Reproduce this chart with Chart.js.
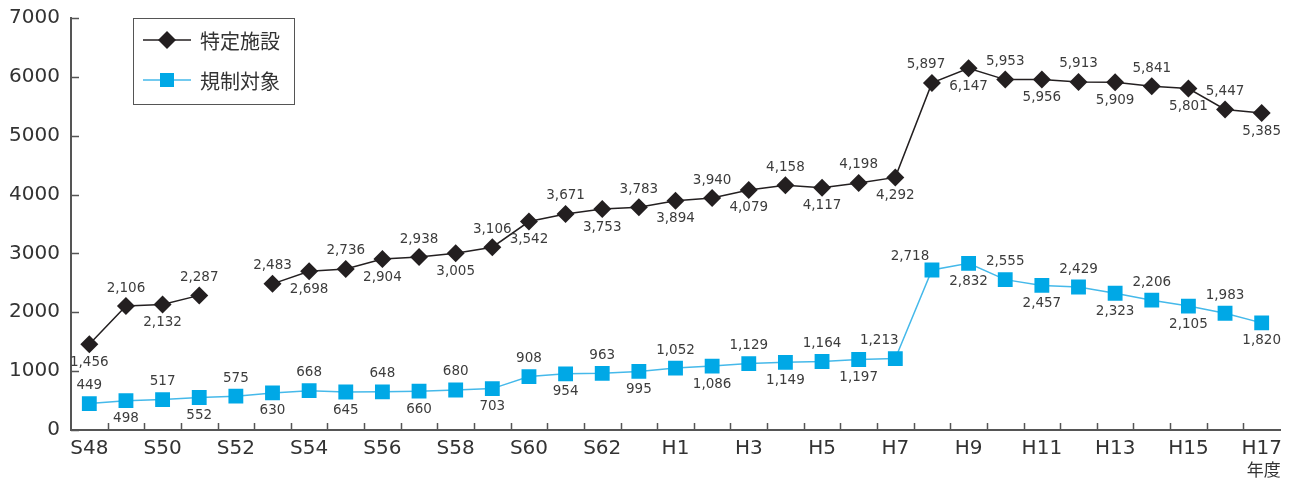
<!DOCTYPE html>
<html lang="ja">
<head>
  <meta charset="UTF-8" />
  <title>特定施設・規制対象の推移</title>
  <script src="https://cdn.jsdelivr.net/npm/chart.js@4.4.1/dist/chart.umd.min.js"></script>
  <style>
    *{margin:0;padding:0;box-sizing:border-box}
    body{background:#fff;width:1292px;height:482px;overflow:hidden}
    canvas{display:block}
  </style>
</head>
<body>
  <canvas id="chart" width="1292" height="482"></canvas>
  <script>
    // 年度
    const categories = ['S48','S49','S50','S51','S52','S53','S54','S55','S56','S57','S58','S59','S60','S61','S62','S63',
      'H1','H2','H3','H4','H5','H6','H7','H8','H9','H10','H11','H12','H13','H14','H15','H16','H17'];
    // 特定施設 (S52 はデータなし)
    const facilities = [1456,2106,2132,2287,null,2483,2698,2736,2904,2938,3005,3106,3542,3671,3753,3783,
      3894,3940,4079,4158,4117,4198,4292,5897,6147,5953,5956,5913,5909,5841,5801,5447,5385];
    // 規制対象
    const regulated = [449,498,517,552,575,630,668,645,648,660,680,703,908,954,963,995,
      1052,1086,1129,1149,1164,1197,1213,2718,2832,2555,2457,2429,2323,2206,2105,1983,1820];
    const yTicks = [0,1000,2000,3000,4000,5000,6000,7000];

    const FONT = '"DejaVu Sans", sans-serif';
    const BLACK = '#231f20', BLUE = '#00a8e6', BLUE_LINE = '#45b9ea', AXIS = '#555';

    // label placement: a = above, b = below, al = above-left
    const labelPos = [
      categories.map((c, i) => i === 23 ? 'al0' : (i % 2 ? 'a' : 'b')),
      categories.map((c, i) => {
        if (i === 23) return 'al';
        if (i === 22) return 'a1';
        if (i > 23) return i % 2 ? 'a' : 'b';
        return i % 2 ? 'b' : 'a';
      })
    ];

    const valueLabels = {
      id: 'valueLabels',
      afterDatasetsDraw(chart) {
        const ctx = chart.ctx;
        ctx.save();
        ctx.font = '13.5px ' + FONT;
        ctx.fillStyle = '#3c3c3c';
        ctx.textAlign = 'center';
        ctx.textBaseline = 'middle';
        chart.data.datasets.forEach((ds, di) => {
          chart.getDatasetMeta(di).data.forEach((pt, i) => {
            const v = ds.data[i];
            if (v == null) return;
            const p = labelPos[di][i];
            let dx = 0, dy = p[0] === 'a' ? -18 : 18;
            if (p === 'al') { dx = -22; dy = -14; }
            if (p === 'al0') { dx = -6; }
            if (p === 'a1') { dx = -16; }
            ctx.fillText(v.toLocaleString('en-US'), pt.x + dx, pt.y + dy);
          });
        });
        ctx.restore();
      }
    };

    const inwardTicks = {
      id: 'inwardTicks',
      afterDraw(chart) {
        const {ctx, chartArea, scales: {x, y}} = chart;
        ctx.save();
        ctx.strokeStyle = AXIS;
        ctx.lineWidth = 1.5;
        ctx.beginPath();
        for (let i = 1; i < categories.length; i++) {
          const px = Math.round((x.getPixelForValue(i - 1) + x.getPixelForValue(i)) / 2) + 0.5;
          ctx.moveTo(px, chartArea.bottom);
          ctx.lineTo(px, chartArea.bottom - 7);
        }
        yTicks.forEach(t => {
          const py = Math.round(y.getPixelForValue(t)) + 0.5;
          ctx.moveTo(chartArea.left, py);
          ctx.lineTo(chartArea.left + 8, py);
        });
        ctx.stroke();
        // 年度
        ctx.fillStyle = '#333';
        ctx.font = '17px "Noto Sans CJK JP", sans-serif';
        ctx.textAlign = 'center';
        ctx.textBaseline = 'middle';
        ctx.fillText('年度', x.getPixelForValue(categories.length - 1) + 2, 470);
        ctx.restore();
      }
    };

    const boxLegend = {
      id: 'boxLegend',
      afterDraw(chart) {
        const ctx = chart.ctx;
        ctx.save();
        ctx.strokeStyle = AXIS;
        ctx.lineWidth = 1;
        ctx.strokeRect(133.5, 18.5, 161, 86);
        const rows = [
          {y: 40, line: BLACK, fill: BLACK, shape: 'diamond', text: '特定施設'},
          {y: 80, line: BLUE_LINE, fill: BLUE, shape: 'square', text: '規制対象'}
        ];
        rows.forEach(r => {
          ctx.strokeStyle = r.line;
          ctx.lineWidth = 1.5;
          ctx.beginPath();
          ctx.moveTo(143, r.y); ctx.lineTo(191, r.y);
          ctx.stroke();
          ctx.fillStyle = r.fill;
          ctx.beginPath();
          if (r.shape === 'diamond') {
            ctx.moveTo(167, r.y - 9); ctx.lineTo(176, r.y); ctx.lineTo(167, r.y + 9); ctx.lineTo(158, r.y);
            ctx.closePath();
          } else {
            ctx.rect(160, r.y - 7, 14, 14);
          }
          ctx.fill();
          ctx.fillStyle = '#333';
          ctx.font = '20px "Noto Sans CJK JP", sans-serif';
          ctx.textBaseline = 'middle';
          ctx.fillText(r.text, 200, r.y + 1);
        });
        ctx.restore();
      }
    };

    new Chart(document.getElementById('chart').getContext('2d'), {
      type: 'line',
      data: {
        labels: categories,
        datasets: [
          {label: '特定施設', data: facilities, borderColor: BLACK, backgroundColor: BLACK, borderWidth: 1.5,
           pointStyle: 'rectRot', pointRadius: 9, pointBorderWidth: 0, spanGaps: false, fill: false, tension: 0},
          {label: '規制対象', data: regulated, borderColor: BLUE_LINE, backgroundColor: BLUE, borderWidth: 1.5,
           pointStyle: 'rect', pointRadius: 10.5, pointBorderWidth: 0, fill: false, tension: 0}
        ]
      },
      options: {
        responsive: false,
        animation: false,
        devicePixelRatio: 1,
        layout: {padding: {top: 18, right: 12, left: 0, bottom: 0}},
        plugins: {legend: {display: false}, tooltip: {enabled: false}},
        scales: {
          x: {
            offset: true,
            grid: {display: false, drawTicks: false},
            border: {display: true, color: AXIS, width: 2},
            ticks: {
              autoSkip: false, maxRotation: 0, padding: 7, color: '#333',
              font: {family: FONT, size: 20},
              callback: (v, i) => i % 2 === 0 ? categories[i] : ''
            },
            afterFit: s => { s.height = 52; }
          },
          y: {
            min: 0, max: 7000,
            grid: {display: false, drawTicks: false},
            border: {display: true, color: AXIS, width: 2},
            ticks: {stepSize: 1000, autoSkip: false, padding: 11, color: '#333', font: {family: FONT, size: 20},
              callback: v => String(v)},
            afterFit: s => { s.width = 71; s.paddingTop = 0; s.paddingBottom = 0; }
          }
        }
      },
      plugins: [valueLabels, inwardTicks, boxLegend]
    });
  </script>
</body>
</html>
